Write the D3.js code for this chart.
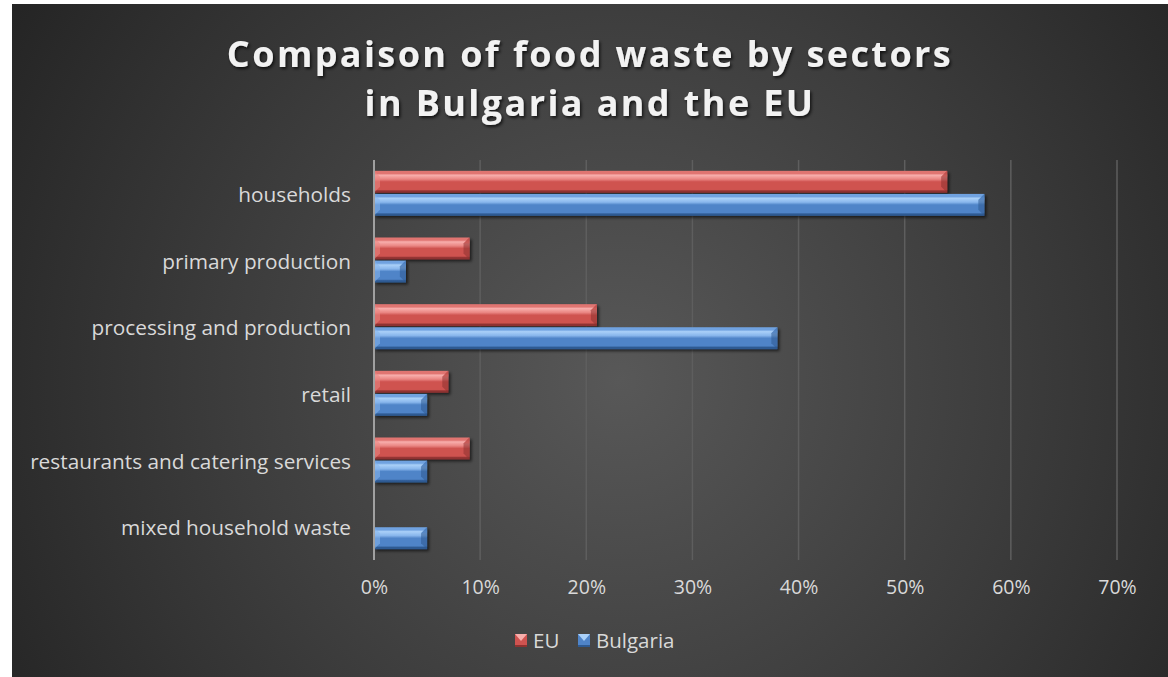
<!DOCTYPE html>
<html>
<head>
<meta charset="utf-8">
<script src="https://cdn.jsdelivr.net/npm/d3@7"></script>
<style>
  body { margin: 0; background: #fff; }
  svg { display: block; }
  text { font-family: "Open Sans", sans-serif; }
</style>
</head>
<body>
<script>
// data
const categories = [
  "households",
  "primary production",
  "processing and production",
  "retail ",
  "restaurants and catering services",
  "mixed household waste",
]
const seriesNames = ["EU", "Bulgaria"]
const euValues = [0.54, 0.09, 0.21, 0.07, 0.09, 0]
const bulgariaValues = [0.575, 0.03, 0.38, 0.05, 0.05, 0.05]
const xTicks = [0, 0.1, 0.2, 0.3, 0.4, 0.5, 0.6, 0.7]
const titleLines = ["Compaison of food waste by sectors", "in Bulgaria and the EU"]

const palette = {
  EU: {light: "#f8aeac", mid: "#ea8683", main: "#cf5350", dark: "#8e3230", top: "#e07471"},
  Bulgaria: {light: "#aad0f8", mid: "#88b6ec", main: "#4f84c8", dark: "#2e5a92", top: "#70a2e0"},
}

const dimensions = {
  width: 1168,
  height: 677,
  margin: {top: 160, right: 51, bottom: 117, left: 374},
}
dimensions.boundedWidth = dimensions.width - dimensions.margin.left - dimensions.margin.right
dimensions.boundedHeight = dimensions.height - dimensions.margin.top - dimensions.margin.bottom

const rows = categories.map((c, i) => ({
  category: c,
  values: [
    {series: "EU", value: euValues[i]},
    {series: "Bulgaria", value: bulgariaValues[i]},
  ],
}))

const wrapper = d3.select("body")
  .append("svg")
    .attr("width", dimensions.width)
    .attr("height", dimensions.height)

const defs = wrapper.append("defs")

// background gradient
const bg = defs.append("radialGradient")
    .attr("id", "bg")
    .attr("gradientUnits", "userSpaceOnUse")
    .attr("cx", 620).attr("cy", 380).attr("r", 720)
bg.append("stop").attr("offset", 0).attr("stop-color", "#585858")
bg.append("stop").attr("offset", 0.55).attr("stop-color", "#3c3c3c")
bg.append("stop").attr("offset", 1).attr("stop-color", "#242424")

// bar gradients
seriesNames.forEach(s => {
  const p = palette[s]
  const g = defs.append("linearGradient")
      .attr("id", "grad-" + s)
      .attr("x1", 0).attr("y1", 0).attr("x2", 0).attr("y2", 1)
  ;[[0, p.top], [0.12, p.top], [0.2, p.light], [0.38, p.mid], [0.5, p.main], [0.85, p.main], [0.92, p.dark], [1, p.dark]]
    .forEach(([o, c]) => g.append("stop").attr("offset", o).attr("stop-color", c))
})

const shadow = defs.append("filter")
    .attr("id", "shadow")
    .attr("x", "-5%").attr("y", "-30%").attr("width", "115%").attr("height", "170%")
shadow.append("feDropShadow")
    .attr("dx", 2).attr("dy", 2).attr("stdDeviation", 1.5)
    .attr("flood-color", "#000").attr("flood-opacity", 0.6)

const titleShadow = defs.append("filter").attr("id", "tshadow")
titleShadow.append("feDropShadow")
    .attr("dx", 1.5).attr("dy", 2).attr("stdDeviation", 1.5)
    .attr("flood-color", "#000").attr("flood-opacity", 0.7)

wrapper.append("rect")
    .attr("x", 12).attr("y", 4)
    .attr("width", dimensions.width - 12)
    .attr("height", dimensions.height - 4)
    .attr("fill", "url(#bg)")

// title
wrapper.append("text")
    .attr("x", 590)
    .attr("text-anchor", "middle")
    .attr("fill", "#f2f2f2")
    .attr("font-weight", "bold")
    .style("font-size", "36px")
    .style("letter-spacing", "2.4px")
    .attr("filter", "url(#tshadow)")
  .selectAll("tspan")
  .data(titleLines)
  .join("tspan")
    .attr("x", 590)
    .attr("y", (d, i) => 67 + i * 49)
    .text(d => d)

const bounds = wrapper.append("g")
    .attr("transform", `translate(${dimensions.margin.left}, ${dimensions.margin.top})`)

// scales
const xScale = d3.scaleLinear()
  .domain([0, 0.7])
  .range([0, dimensions.boundedWidth])

const yScale = d3.scaleBand()
  .domain(categories)
  .range([0, dimensions.boundedHeight])

const bw = yScale.bandwidth()
const ySub = d3.scaleBand()
  .domain(seriesNames)
  .range([bw / 2 - 22.5, bw / 2 + 22.5])
  .paddingInner(0.05)

// gridlines
const xAxisGenerator = d3.axisBottom(xScale)
  .tickValues(xTicks)
  .tickFormat(d3.format(".0%"))
  .tickSize(0)
  .tickPadding(20)

const xAxis = bounds.append("g")
    .attr("transform", `translate(0, ${dimensions.boundedHeight})`)
    .call(xAxisGenerator)
xAxis.select(".domain").remove()
xAxis.selectAll("text")
    .attr("fill", "#d9d9d9")
    .style("font-size", "19.5px")
    .style("font-family", "'Open Sans', sans-serif")

bounds.append("g")
  .selectAll("line")
  .data(xTicks.slice(1))
  .join("line")
    .attr("x1", d => xScale(d)).attr("x2", d => xScale(d))
    .attr("y1", 0).attr("y2", dimensions.boundedHeight)
    .attr("stroke", "#5e5e5e")
    .attr("stroke-width", 1.5)

// bars
const bevel = 6
const drawBar = (g, w, h, s) => {
  const p = palette[s]
  const b = Math.min(bevel, w / 2, h / 2)
  const bar = g.append("g").attr("filter", "url(#shadow)")
  bar.append("rect")
      .attr("width", w).attr("height", h)
      .attr("fill", `url(#grad-${s})`)
  // left bevel
  bar.append("polygon")
      .attr("points", [[0, 0], [b, b], [b, h - b], [0, h]].join(" "))
      .attr("fill", p.mid).attr("opacity", 0.55)
  // right bevel
  bar.append("polygon")
      .attr("points", [[w, 0], [w - b, b], [w - b, h - b], [w, h]].join(" "))
      .attr("fill", p.dark).attr("opacity", 0.55)
  // right corner
  bar.append("polygon")
      .attr("points", [[w, 0], [w - b, b], [w, b]].join(" "))
      .attr("fill", p.main).attr("opacity", 0.6)
}

const groups = bounds.selectAll(".row")
  .data(rows)
  .join("g")
    .attr("class", "row")
    .attr("transform", d => `translate(0, ${yScale(d.category)})`)

groups.each(function(d) {
  const g = d3.select(this)
  d.values.forEach(v => {
    if (!v.value) return
    const bg = g.append("g").attr("transform", `translate(0, ${ySub(v.series)})`)
    drawBar(bg, xScale(v.value), ySub.bandwidth(), v.series)
  })
})

// zero axis line
bounds.append("line")
    .attr("x1", 0).attr("x2", 0)
    .attr("y1", 0).attr("y2", dimensions.boundedHeight)
    .attr("stroke", "#a0a0a0")
    .attr("stroke-width", 2)

// category labels
const yAxisGenerator = d3.axisLeft(yScale).tickSize(0).tickPadding(23)
const yAxis = bounds.append("g").call(yAxisGenerator)
yAxis.select(".domain").remove()
yAxis.selectAll("text")
    .attr("fill", "#d9d9d9")
    .attr("dy", "0.42em")
    .style("font-size", "20.8px")
    .style("font-family", "'Open Sans', sans-serif")

// legend
const legend = wrapper.append("g")
    .attr("transform", "translate(515, 641)")
const legendItems = [
  {series: "EU", x: 0},
  {series: "Bulgaria", x: 63},
]
legendItems.forEach(item => {
  const lg = legend.append("g").attr("transform", `translate(${item.x}, 0)`)
  const p = palette[item.series]
  lg.append("rect")
      .attr("x", 0).attr("y", -7).attr("width", 12).attr("height", 13)
      .attr("fill", p.main)
  lg.append("polygon")
      .attr("points", [[0, -7], [12, -7], [6, 0]].join(" "))
      .attr("fill", p.light)
  lg.append("rect")
      .attr("x", 0).attr("y", 4).attr("width", 12).attr("height", 2)
      .attr("fill", p.dark)
  lg.append("text")
      .attr("x", 18).attr("y", 0)
      .attr("dy", "0.35em")
      .attr("fill", "#d9d9d9")
      .style("font-size", "20.5px")
      .text(item.series)
})
</script>
</body>
</html>
